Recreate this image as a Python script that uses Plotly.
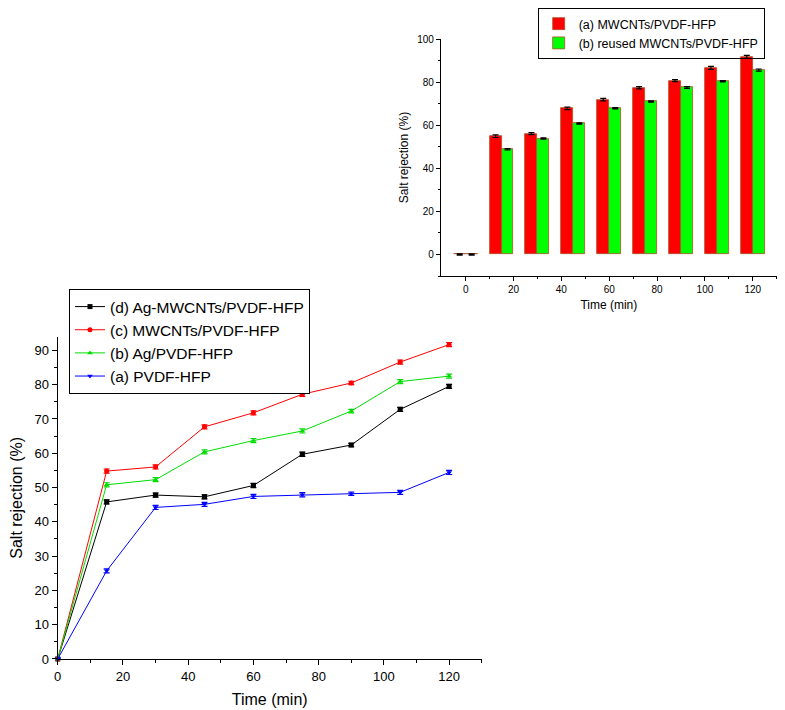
import plotly.graph_objects as go

# ---- line chart data (bottom) ----
time_min = [0, 15, 30, 45, 60, 75, 90, 105, 120]
ag_mwcnt = [0, 45.8, 47.8, 47.3, 50.6, 59.7, 62.4, 72.8, 79.5]
mwcnt = [0, 54.8, 56.0, 67.7, 71.8, 77.2, 80.5, 86.6, 91.7]
ag_pvdf = [0, 50.8, 52.3, 60.4, 63.7, 66.5, 72.3, 80.9, 82.5]
pvdf = [0, 25.7, 44.2, 45.1, 47.4, 47.9, 48.2, 48.6, 54.4]
line_err = [0.3, 0.6, 0.6, 0.6, 0.6, 0.6, 0.5, 0.6, 0.6]

# ---- bar chart data (inset) ----
bar_time = [0, 15, 30, 45, 60, 75, 90, 105, 120]
bar_mwcnt = [0, 54.9, 56.1, 67.8, 71.9, 77.4, 80.7, 86.6, 91.7]
bar_reused = [0, 48.8, 53.8, 60.8, 67.9, 71.0, 77.5, 80.4, 85.6]
bar_err_a = [0.3, 0.6, 0.5, 0.6, 0.6, 0.5, 0.5, 0.7, 0.7]
bar_err_b = [0.3, 0.3, 0.3, 0.3, 0.3, 0.3, 0.4, 0.3, 0.5]

FONT = "Arial, Liberation Sans, sans-serif"

fig = go.Figure()

series = [
    ("(d) Ag-MWCNTs/PVDF-HFP", ag_mwcnt, "#000000", "square"),
    ("(c) MWCNTs/PVDF-HFP", mwcnt, "#ff0000", "circle"),
    ("(b) Ag/PVDF-HFP", ag_pvdf, "#00dd00", "triangle-up"),
    ("(a) PVDF-HFP", pvdf, "#0000ff", "triangle-down"),
]
for name, vals, col, sym in series:
    fig.add_trace(go.Scatter(
        x=time_min, y=vals, name=name, mode="lines+markers",
        line=dict(color=col, width=1),
        marker=dict(symbol=sym, size=5, color=col),
        error_y=dict(type="data", array=line_err, color=col, thickness=1.2, width=3),
        cliponaxis=False, xaxis="x", yaxis="y", legend="legend",
    ))

fig.add_trace(go.Bar(
    x=bar_time, y=bar_mwcnt, name="(a) MWCNTs/PVDF-HFP",
    offset=-5, width=5,
    marker=dict(color="#ff0000", line=dict(color="rgb(170,80,40)", width=0.8)),
    error_y=dict(type="data", array=bar_err_a, color="#000000", thickness=1.2, width=3),
    xaxis="x2", yaxis="y2", legend="legend2",
))
fig.add_trace(go.Bar(
    x=bar_time, y=bar_reused, name="(b) reused MWCNTs/PVDF-HFP",
    offset=0, width=5,
    marker=dict(color="#00ff00", line=dict(color="rgb(170,80,40)", width=0.8)),
    error_y=dict(type="data", array=bar_err_b, color="#000000", thickness=1.2, width=3),
    xaxis="x2", yaxis="y2", legend="legend2",
))

axis_common = dict(
    showgrid=False, zeroline=False, showline=True, linecolor="black",
    ticks="outside", tickcolor="black", color="black", automargin=False,
)

# the page places the figure 8px in from the top-left corner of the window
fig.update_layout(
    width=777, height=702,
    margin=dict(l=0, r=0, t=0, b=0, autoexpand=False),
    paper_bgcolor="white", plot_bgcolor="white",
    font=dict(family=FONT, color="black"),
    showlegend=True,
    xaxis=dict(
        **axis_common, domain=[0.064, 0.6097], range=[0, 130],
        tick0=0, dtick=20, ticklen=5, linewidth=1.3, tickwidth=1.2,
        minor=dict(ticks="outside", dtick=10, ticklen=3, tickcolor="black"),
        tickfont=dict(size=13),
        title=dict(text="Time (min)", font=dict(size=16), standoff=11),
        anchor="y",
    ),
    yaxis=dict(
        **axis_common, domain=[0.0727, 0.5318], range=[0, 94],
        tick0=0, dtick=10, ticklen=5, linewidth=1.3, tickwidth=1.2,
        minor=dict(ticks="outside", dtick=5, ticklen=3, tickcolor="black"),
        tickfont=dict(size=13),
        title=dict(text="Salt rejection (%)", font=dict(size=16), standoff=8),
        anchor="x",
    ),
    xaxis2=dict(
        **axis_common, domain=[0.5573, 0.9893], range=[-10.3, 130],
        tickvals=[0, 20, 40, 60, 80, 100, 120], ticklen=4, linewidth=1.2,
        minor=dict(ticks="outside", tickvals=[10, 30, 50, 70, 90, 110, 130], ticklen=2, tickcolor="black"),
        tickfont=dict(size=10),
        title=dict(text="Time (min)", font=dict(size=12), standoff=6),
        anchor="y2",
    ),
    yaxis2=dict(
        **axis_common, domain=[0.6182, 0.9558], range=[-10, 100],
        tickvals=[0, 20, 40, 60, 80, 100], ticklen=4, linewidth=1.2,
        minor=dict(ticks="outside", tickvals=[-10, 10, 30, 50, 70, 90], ticklen=2, tickcolor="black"),
        tickfont=dict(size=10),
        title=dict(text="Salt rejection (%)", font=dict(size=12), standoff=6),
        anchor="x2",
    ),
    legend=dict(
        x=0.0785, y=0.5997, xanchor="left", yanchor="top",
        bgcolor="white", bordercolor="black", borderwidth=1,
        font=dict(size=15.5, family=FONT), tracegroupgap=0,
    ),
    legend2=dict(
        x=0.6817, y=1.0, xanchor="left", yanchor="top",
        bgcolor="rgba(255,255,255,0)", bordercolor="black", borderwidth=1,
        font=dict(size=12.5, family=FONT), tracegroupgap=0,
    ),
    bargap=0,
)

fig.write_html("out.html")
